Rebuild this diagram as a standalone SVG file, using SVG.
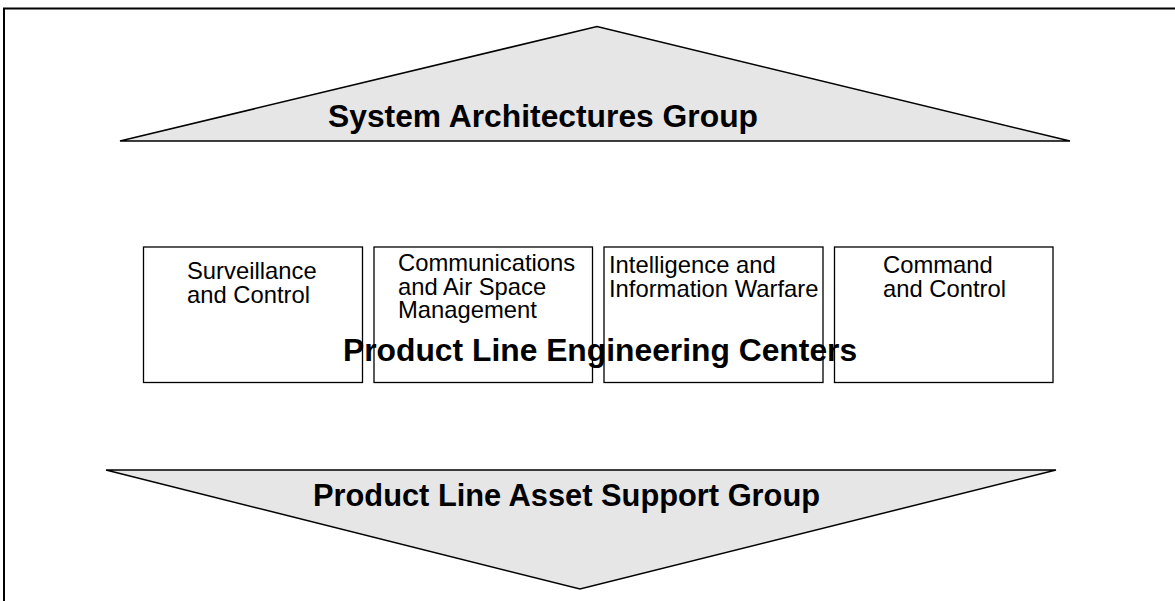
<svg xmlns="http://www.w3.org/2000/svg" width="1175" height="601" viewBox="0 0 1175 601">
<style>
.frame{stroke:#000;stroke-width:2;fill:none}
.banner{fill:#e6e6e6;stroke:#000;stroke-width:1.5;stroke-linejoin:miter}
.box{fill:#fff;stroke:#000;stroke-width:1.3}
.big{font-family:"Liberation Sans",Arial,sans-serif;font-weight:bold;font-size:31.8px;fill:#000}
.small{font-family:"Liberation Sans",Arial,sans-serif;font-size:23.8px;fill:#000}
</style>
<rect width="1175" height="601" fill="#fff"/>
<g id="frame">
<polyline class="frame" points="4,601 4,8.5 1175,8.5"/>
</g>
<g id="connectors"></g>
<g id="system-architectures">
<polygon class="banner" points="120,141 597,26.5 1070,141"/>
<text class="big" x="328" y="127">System Architectures Group</text>
</g>
<g id="surveillance">
<rect class="box" x="143.5" y="247" width="219" height="135.5"/>
<text class="small" x="187" y="279">Surveillance</text>
<text class="small" x="187" y="303">and Control</text>
</g>
<g id="communications">
<rect class="box" x="374" y="247" width="218.5" height="135.5"/>
<text class="small" x="398" y="271">Communications</text>
<text class="small" x="398" y="294.5">and Air Space</text>
<text class="small" x="398" y="318">Management</text>
</g>
<g id="intelligence">
<rect class="box" x="604" y="247" width="219" height="135.5"/>
<text class="small" x="609" y="273">Intelligence and</text>
<text class="small" x="609" y="297">Information Warfare</text>
</g>
<g id="command">
<rect class="box" x="834.5" y="247" width="218.5" height="135.5"/>
<text class="small" x="883" y="273">Command</text>
<text class="small" x="883" y="297">and Control</text>
</g>
<g id="engineering-centers">
<text class="big" x="343" y="361">Product Line Engineering Centers</text>
</g>
<g id="asset-support">
<polygon class="banner" points="106,470 1056,470 580,589"/>
<text class="big" x="313" y="506" style="font-size:30.8px">Product Line Asset Support Group</text>
</g>
</svg>
